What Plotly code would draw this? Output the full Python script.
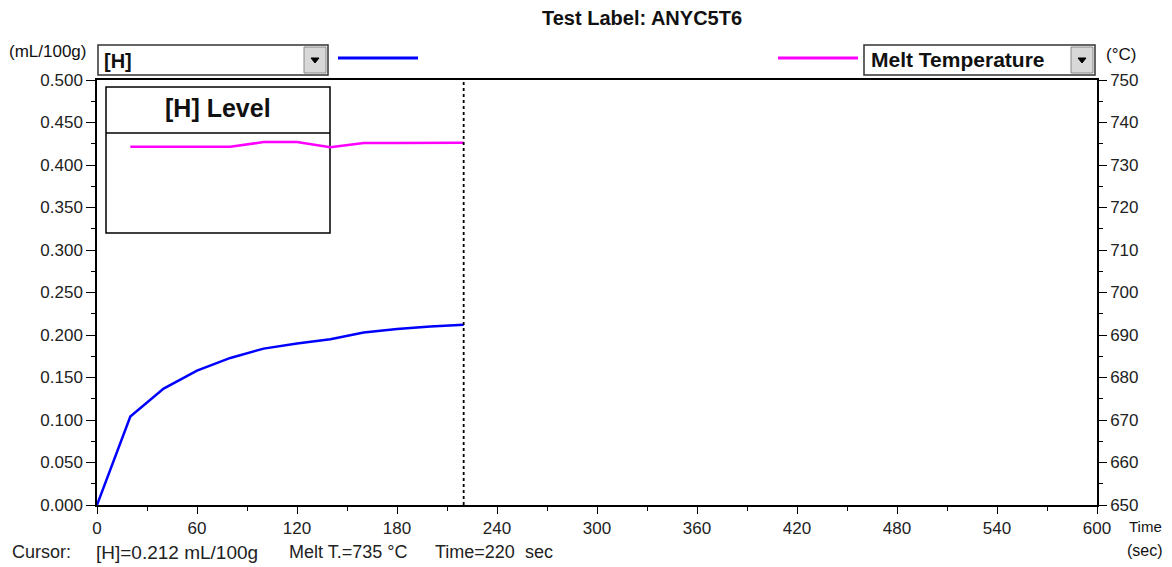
import plotly.graph_objects as go

# ---- data ----
time_h = [0, 20, 40, 60, 80, 100, 120, 140, 160, 180, 200, 220]
h_level = [0.000, 0.104, 0.137, 0.158, 0.173, 0.184, 0.190, 0.195, 0.203, 0.207, 0.210, 0.212]
time_t = [20, 40, 60, 80, 100, 120, 140, 160, 180, 200, 220]
melt_temp = [734.3, 734.3, 734.3, 734.3, 735.4, 735.4, 734.2, 735.2, 735.2, 735.25, 735.25]
cursor_time = 220
x_ticks = [0, 60, 120, 180, 240, 300, 360, 420, 480, 540, 600]

# page has an 8px body margin; work in reference pixel coordinates and shift
OFF = 8
W, H = 1172 - OFF, 567 - OFF
L, R, T, B = 97, 1097, 80, 505
FONT = "Liberation Sans, Arial, sans-serif"


def px(x):
    return (x - L) / (R - L)


def py(y):
    return (B - y) / (B - T)


fig = go.Figure()
fig.add_trace(go.Scatter(x=time_h, y=h_level, mode="lines",
                         line=dict(color="#0000FF", width=2.5), yaxis="y", showlegend=False))
fig.add_trace(go.Scatter(x=time_t, y=melt_temp, mode="lines",
                         line=dict(color="#FF00FF", width=2.5), yaxis="y2", showlegend=False))

shapes = []
# legend box
shapes.append(dict(type="rect", xref="paper", yref="paper", x0=px(106), x1=px(330), y0=py(233), y1=py(87),
                   line=dict(color="black", width=1.5), fillcolor="white", layer="below"))
shapes.append(dict(type="line", xref="paper", yref="paper", x0=px(106), x1=px(330), y0=py(133), y1=py(133),
                   line=dict(color="black", width=1.5), layer="below"))
# cursor line
shapes.append(dict(type="line", xref="x", yref="paper", x0=cursor_time, x1=cursor_time, y0=0, y1=1,
                   line=dict(color="black", width=1.8, dash="dot")))


def dropdown(x0, x1, y0, y1):
    shapes.append(dict(type="rect", xref="paper", yref="paper", x0=px(x0), x1=px(x1), y0=py(y1), y1=py(y0),
                       line=dict(color="#333333", width=1.5), fillcolor="white"))
    bx0 = x1 - 24
    shapes.append(dict(type="rect", xref="paper", yref="paper", x0=px(bx0), x1=px(x1 - 2), y0=py(y1 - 2), y1=py(y0 + 2),
                       line=dict(color="#888888", width=1), fillcolor="#d8d8d8"))
    cx = (bx0 + x1 - 2) / 2
    cy = (y0 + y1) / 2
    path = "M {} {} L {} {} L {} {} Z".format(px(cx - 4), py(cy - 2), px(cx + 4), py(cy - 2), px(cx), py(cy + 3))
    shapes.append(dict(type="path", xref="paper", yref="paper", path=path,
                       line=dict(color="black", width=1), fillcolor="black"))


dropdown(98, 328, 45, 75)
dropdown(864, 1095, 45, 75)
# legend line samples
shapes.append(dict(type="line", xref="paper", yref="paper", x0=px(338), x1=px(418), y0=py(58), y1=py(58),
                   line=dict(color="#0000FF", width=3)))
shapes.append(dict(type="line", xref="paper", yref="paper", x0=px(778), x1=px(858), y0=py(58), y1=py(58),
                   line=dict(color="#FF00FF", width=3)))

ann = []


def text(x, y, s, size, anchor="left", bold=False, color="#111111"):
    ann.append(dict(xref="paper", yref="paper", x=px(x), y=py(y), text=("<b>%s</b>" % s) if bold else s,
                    showarrow=False, xanchor=anchor, yanchor="middle",
                    font=dict(family=FONT, size=size, color=color)))


text(642, 18, "Test Label: ANYC5T6", 20, "center", True)
text(88, 51, "(mL/100g)", 17, "right")
text(102, 61, "[H]", 20, "left", True)
text(869, 60, "Melt Temperature", 21, "left", True)
text(1104, 55, "(°C)", 17, "left")
text(218, 108, "[H] Level", 25, "center", True)
text(1145, 526, "Time", 15, "center")
text(1145, 550, "(sec)", 16, "center")
text(10, 552, "Cursor:", 18, "left", color="#222222")
text(94, 552, "[H]=0.212 mL/100g", 19, "left", color="#222222")
text(287, 552, "Melt T.=735 °C", 18, "left", color="#222222")
text(433, 552, "Time=220&nbsp;&nbsp;sec", 18, "left", color="#222222")

tickfont = dict(family=FONT, size=17, color="#222222")
fig.update_layout(
    width=W, height=H,
    margin=dict(l=L - OFF, r=1172 - R, t=T - OFF, b=567 - B, pad=0),
    paper_bgcolor="white", plot_bgcolor="white",
    showlegend=False,
    xaxis=dict(range=[0, 600], tickvals=x_ticks, ticks="outside", ticklen=7, tickwidth=1.2, tickcolor="black",
               showline=True, linecolor="black", linewidth=1.5, mirror=True, showgrid=False, zeroline=False,
               tickfont=tickfont, minor=dict(dtick=30, ticks="outside", ticklen=4, tickcolor="black")),
    yaxis=dict(range=[0, 0.5], dtick=0.05, tickformat=".3f", ticks="outside", ticklen=9, tickwidth=1.2,
               tickcolor="black", showline=True, linecolor="black", linewidth=1.5, showgrid=False, zeroline=False,
               tickfont=tickfont, minor=dict(dtick=0.025, ticks="outside", ticklen=4, tickcolor="black")),
    yaxis2=dict(range=[650, 750], dtick=10, overlaying="y", side="right", ticks="outside", ticklen=8,
                tickwidth=1.2, tickcolor="black", showline=True, linecolor="black", linewidth=1.5,
                showgrid=False, zeroline=False, tickfont=tickfont,
                minor=dict(dtick=5, ticks="outside", ticklen=4, tickcolor="black")),
    shapes=shapes,
    annotations=ann,
)

fig.write_html("out.html")
